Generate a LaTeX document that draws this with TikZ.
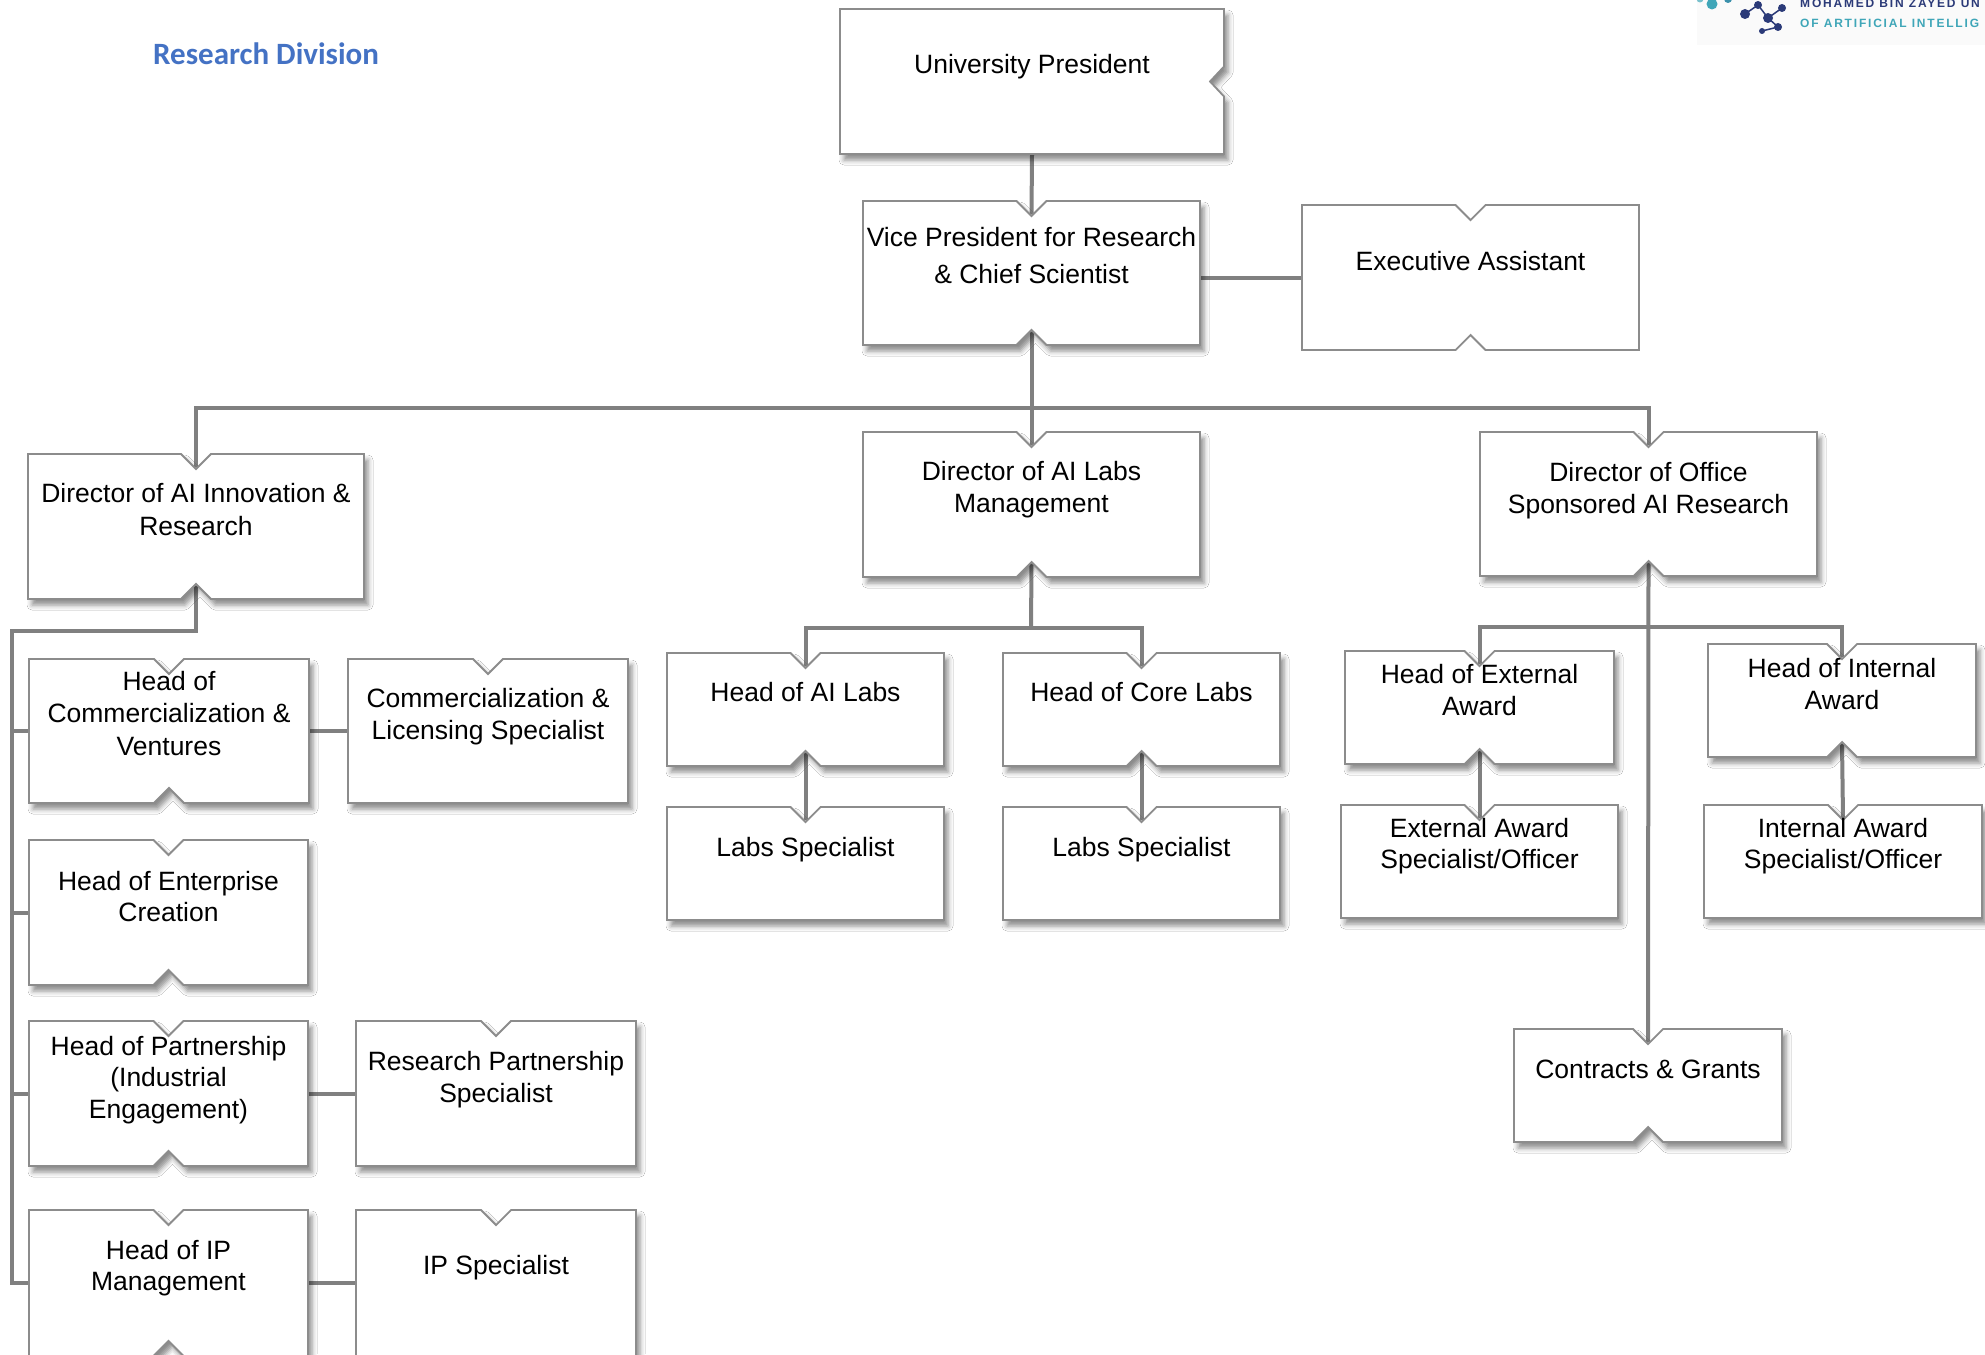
\documentclass[tikz,border=0pt]{standalone}
\usepackage{fontspec}
\setmainfont{Liberation Sans}
\newfontfamily\titlefont{Carlito}
\newfontfamily\logofont[LetterSpace=15]{Liberation Sans}
\usetikzlibrary{fit,shadows.blur}
\definecolor{linegray}{HTML}{808080}
\definecolor{boxgray}{HTML}{8C8C8C}
\definecolor{titleblue}{HTML}{4472C4}
\definecolor{logonavy}{HTML}{2B3A78}
\definecolor{logoteal}{HTML}{3FA6B8}

\tikzset{
  conn/.style={draw=linegray, line width=4pt},
  boxline/.style={draw=boxgray, line width=1.8pt, fill=white, line join=miter},
  shad/.style={blur shadow={shadow xshift=4pt, shadow yshift=-6pt, shadow blur radius=5pt, shadow opacity=45}},
  noshad/.style={},
  boxtext/.style={inner sep=0pt, align=center},
}

% node definition: name, x1, y1, x2, y2 (pixel coordinates, y downward)
\newcommand{\defbox}[5]{%
  \path (#2,#3) coordinate (#1-a) (#4,#5) coordinate (#1-b);
  \node[fit=(#1-a)(#1-b), inner sep=0pt, outer sep=0pt] (#1) {};
}
% outlines
\newcommand{\drawTB}[2]{%
  \draw[boxline,#2] (#1.north west) -- ([xshift=-15pt]#1.north) -- ([yshift=-15pt]#1.north)
    -- ([xshift=15pt]#1.north) -- (#1.north east) -- (#1.south east)
    -- ([xshift=15pt]#1.south) -- ([yshift=15pt]#1.south) -- ([xshift=-15pt]#1.south)
    -- (#1.south west) -- cycle;}
\newcommand{\drawT}[2]{%
  \draw[boxline,#2] (#1.north west) -- ([xshift=-15pt]#1.north) -- ([yshift=-15pt]#1.north)
    -- ([xshift=15pt]#1.north) -- (#1.north east) -- (#1.south east)
    -- (#1.south west) -- cycle;}
\newcommand{\drawR}[2]{%
  \draw[boxline,#2] (#1.north west) -- (#1.north east) -- ([yshift=15pt]#1.east)
    -- ([xshift=-14pt]#1.east) -- ([yshift=-15pt]#1.east) -- (#1.south east)
    -- (#1.south west) -- cycle;}
% text: name, baseline offset from top, line skip, text
\newcommand{\boxtxt}[4]{%
  \node[boxtext, anchor=north, font=\fontsize{26.5}{#3}\selectfont] (#1-t)
    at ([yshift={20pt-#2pt}]#1.north) {\rule{0pt}{20pt}#4};
}

\begin{document}
\begin{tikzpicture}[x=1pt, y=-1pt]
\useasboundingbox (0,0) rectangle (1985,1354);
\clip (0,0) rectangle (1985,1354);
\fill[white] (0,0) rectangle (1985,1354);

% ---------- logo ----------
\fill[gray!4] (1697,0) rectangle (1985,45);
\draw[logonavy, line width=1.5pt] (1745,14) -- (1758,5) -- (1768,18) -- (1782,8);
\draw[logonavy, line width=1.5pt] (1768,18) -- (1778,27) -- (1762,31);
\fill[logoteal] (1712,4) circle (5.5);
\fill[logoteal!70] (1700,-1) circle (3.5);
\fill[logoteal!80!logonavy] (1728,-1) circle (4);
\fill[logonavy] (1745,14) circle (5);
\fill[logonavy] (1758,5) circle (4);
\fill[logonavy] (1768,18) circle (5);
\fill[logonavy] (1782,8) circle (4);
\fill[logonavy] (1778,27) circle (4);
\fill[logonavy] (1762,31) circle (3);
\node[anchor=base west, inner sep=0pt, text=logonavy, font=\logofont\bfseries\fontsize{12}{12}\selectfont] (logo1) at (1800,8) {MOHAMED BIN ZAYED UN};
\node[anchor=base west, inner sep=0pt, text=logoteal, font=\logofont\bfseries\fontsize{12}{12}\selectfont] (logo2) at (1800,28) {OF ARTIFICIAL INTELLIG};

% ---------- title ----------
\node[anchor=base west, inner sep=0pt, text=titleblue, font=\titlefont\bfseries\fontsize{31}{31}\selectfont] (title) at (153,64) {Research Division};

% ---------- node geometry ----------
\defbox{UP}{840}{9}{1224}{154}
\defbox{VP}{863}{201}{1200}{345}
\defbox{EA}{1302}{205}{1639}{350}
\defbox{DIR}{28}{454}{364}{599}
\defbox{DAL}{863}{432}{1200}{577}
\defbox{DOS}{1480}{432}{1817}{576}
\defbox{HoC}{29}{659}{309}{803}
\defbox{CLS}{348}{659}{628}{803}
\defbox{HEC}{29}{840}{308}{985}
\defbox{HP}{29}{1021}{308}{1166}
\defbox{RPS}{356}{1021}{636}{1166}
\defbox{HIP}{29}{1210}{308}{1356}
\defbox{IPS}{356}{1210}{636}{1356}
\defbox{HAL}{667}{653}{944}{766}
\defbox{HCL}{1003}{653}{1280}{766}
\defbox{LSa}{667}{807}{944}{920}
\defbox{LSb}{1003}{807}{1280}{920}
\defbox{HEA}{1345}{651}{1614}{764}
\defbox{HIA}{1708}{644}{1976}{757}
\defbox{EAS}{1341}{805}{1618}{918}
\defbox{IAS}{1704}{805}{1982}{918}
\defbox{CG}{1514}{1029}{1782}{1142}

\coordinate (bus1) at (1031,408);
\coordinate (lb) at (12,631);
\coordinate (bus2) at (1031,628);
\coordinate (bus3) at (1648,627);

% ---------- connectors ----------
\draw[conn] (UP.south) -- ([yshift=-13pt]VP.north);
\draw[conn] (EA.west) -- (EA.west -| VP.east);
\draw[conn] ([yshift=13pt]VP.south) -- ([yshift=-13pt]DAL.north);
\draw[conn] ([yshift=-13pt]DIR.north) -- (DIR.north |- bus1) -- (DOS.north |- bus1) -- ([yshift=-13pt]DOS.north);
% left branch
\draw[conn] ([yshift=13pt]DIR.south) -- (DIR.south |- lb) -- (lb) -- (lb |- HIP.west) -- (HIP.west);
\draw[conn] (lb |- HoC.west) -- (HoC.west);
\draw[conn] (lb |- HEC.west) -- (HEC.west);
\draw[conn] (lb |- HP.west) -- (HP.west);
\draw[conn] (HoC.east) -- (CLS.west);
\draw[conn] (HP.east) -- (RPS.west);
\draw[conn] (HIP.east) -- (IPS.west);
% labs branch
\draw[conn] ([yshift=13pt]DAL.south) -- (bus2);
\draw[conn] ([yshift=-13pt]HAL.north) -- (HAL.north |- bus2) -- (HCL.north |- bus2) -- ([yshift=-13pt]HCL.north);
\draw[conn] ([yshift=13pt]HAL.south) -- ([yshift=-13pt]LSa.north);
\draw[conn] ([yshift=13pt]HCL.south) -- ([yshift=-13pt]LSb.north);
% sponsored research branch
\draw[conn] ([yshift=13pt]DOS.south) -- ([yshift=-13pt]CG.north);
\draw[conn] ([yshift=-13pt]HEA.north) -- (HEA.north |- bus3) -- (HIA.north |- bus3) -- ([yshift=-13pt]HIA.north);
\draw[conn] ([yshift=13pt]HEA.south) -- ([yshift=-13pt]EAS.north);
\draw[conn] ([yshift=13pt]HIA.south) -- ([yshift=-13pt]IAS.north);

% ---------- boxes ----------
\drawR{UP}{shad}
\drawTB{VP}{shad}
\drawTB{EA}{noshad}
\drawTB{DIR}{shad}
\drawTB{DAL}{shad}
\drawTB{DOS}{shad}
\drawTB{HoC}{shad}
\drawT{CLS}{shad}
\drawTB{HEC}{shad}
\drawTB{HP}{shad}
\drawT{RPS}{shad}
\drawTB{HIP}{shad}
\drawT{IPS}{shad}
\drawTB{HAL}{shad}
\drawTB{HCL}{shad}
\drawT{LSa}{shad}
\drawT{LSb}{shad}
\drawTB{HEA}{shad}
\drawTB{HIA}{shad}
\drawT{EAS}{shad}
\drawT{IAS}{shad}
\drawTB{CG}{shad}

% ---------- texts ----------
\boxtxt{UP}{64}{32}{University President}
\boxtxt{VP}{45}{37}{Vice President for Research\\\& Chief Scientist}
\boxtxt{EA}{65}{32}{Executive Assistant}
\boxtxt{DIR}{48}{33}{Director of AI Innovation \&\\Research}
\boxtxt{DAL}{48}{32}{Director of AI Labs\\Management}
\boxtxt{DOS}{49}{32}{Director of Office\\Sponsored AI Research}
\boxtxt{HoC}{31}{32.5}{Head of\\Commercialization \&\\Ventures}
\boxtxt{CLS}{48}{32}{Commercialization \&\\Licensing Specialist}
\boxtxt{HEC}{50}{31.5}{Head of Enterprise\\Creation}
\boxtxt{HP}{34}{31.5}{Head of Partnership\\(Industrial\\Engagement)}
\boxtxt{RPS}{49}{32}{Research Partnership\\Specialist}
\boxtxt{HIP}{49}{31.5}{Head of IP\\Management}
\boxtxt{IPS}{64}{32}{IP Specialist}
\boxtxt{HAL}{48}{32}{Head of AI Labs}
\boxtxt{HCL}{48}{32}{Head of Core Labs}
\boxtxt{LSa}{49}{32}{Labs Specialist}
\boxtxt{LSb}{49}{32}{Labs Specialist}
\boxtxt{HEA}{32}{32}{Head of External\\Award}
\boxtxt{HIA}{33}{32}{Head of Internal\\Award}
\boxtxt{EAS}{32}{31.5}{External Award\\Specialist/Officer}
\boxtxt{IAS}{32}{31.5}{Internal Award\\Specialist/Officer}
\boxtxt{CG}{49}{32}{Contracts \& Grants}
\end{tikzpicture}
\end{document}
